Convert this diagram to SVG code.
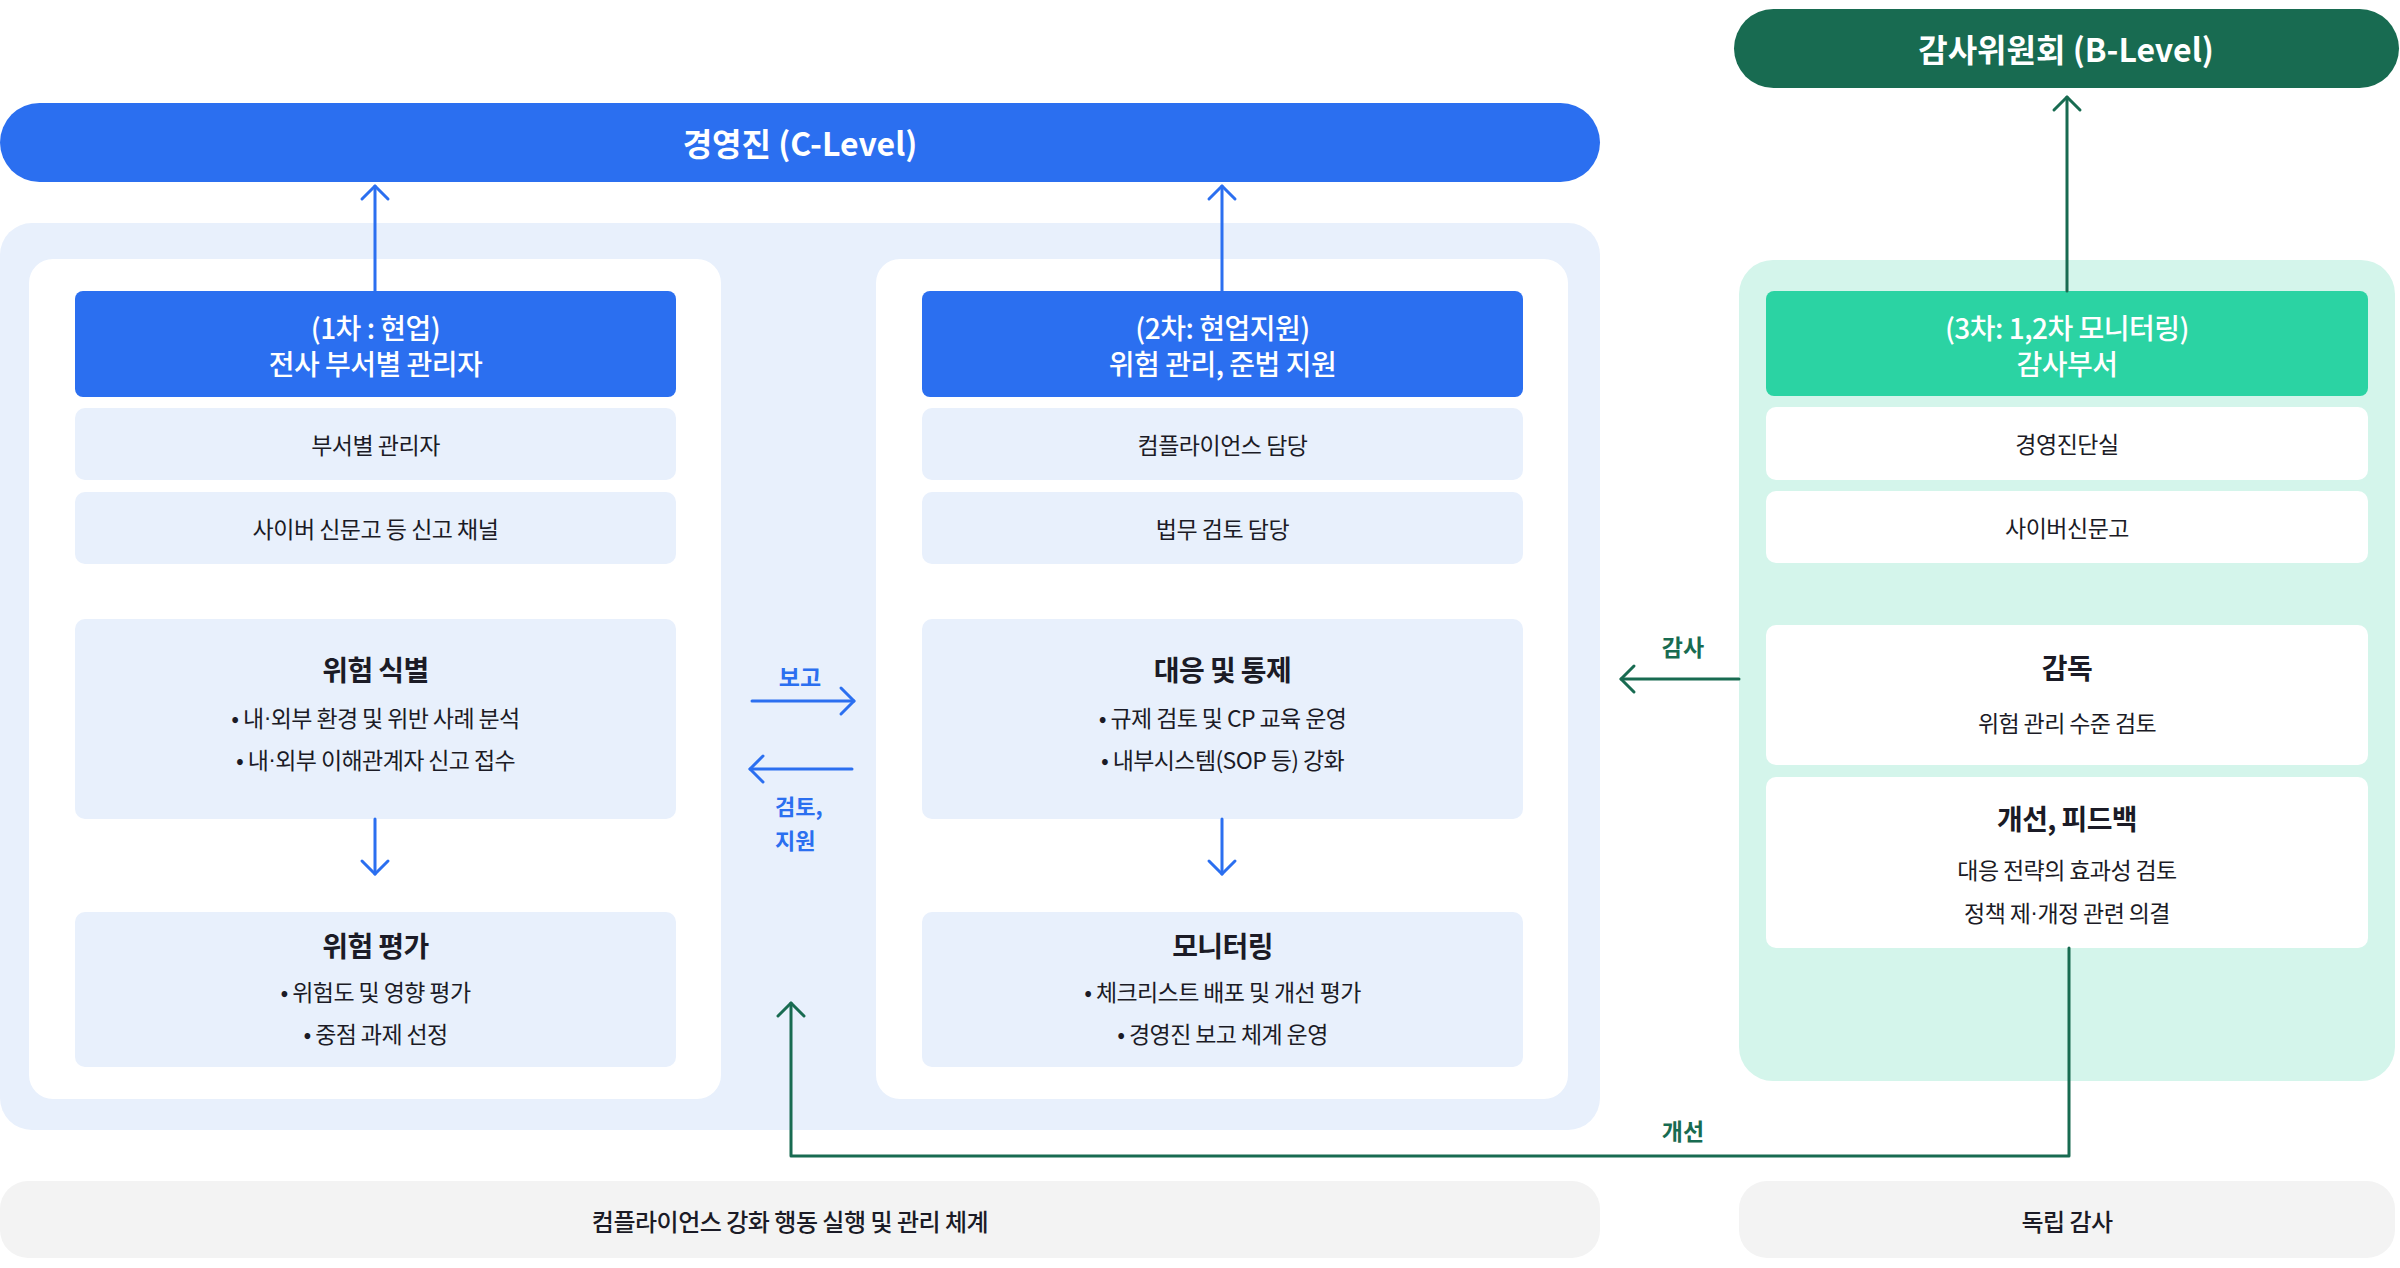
<svg xmlns="http://www.w3.org/2000/svg" width="2400" height="1268" viewBox="0 0 2400 1268">
<style>
text { font-family: "Noto Sans CJK KR", "Noto Sans", sans-serif; text-anchor: middle; dominant-baseline: central; }
.bar { font-size: 32px; font-weight: 700; fill: #ffffff; }
.hd { font-size: 28px; font-weight: 500; fill: #ffffff; letter-spacing: -0.5px; }
.sub { font-size: 23px; font-weight: 400; fill: #1b1b26; letter-spacing: -0.5px; }
.ttl { font-size: 28px; font-weight: 700; fill: #1b1b26; letter-spacing: -0.6px; }
.bul { font-size: 23px; font-weight: 400; fill: #1b1b26; letter-spacing: -0.6px; }
.lblB { font-size: 23px; font-weight: 700; fill: #2b6ff0; }
.lblS { font-size: 22px; font-weight: 700; fill: #2b6ff0; text-anchor: start; }
.lblG { font-size: 23px; font-weight: 700; fill: #186b51; }
.foot { font-size: 24px; font-weight: 500; fill: #1b1b26; letter-spacing: -0.5px; }
.dot { font-family: "Liberation Sans", sans-serif; }
.blueBar { fill: #2b6ff0; }
.greenBar { fill: #186b51; }
.bluePanel { fill: #e8f0fc; }
.whitePanel { fill: #ffffff; }
.hdBlue { fill: #2b6ff0; }
.hdGreen { fill: #2bd3a3; }
.cellBlue { fill: #e8f0fc; }
.cellWhite { fill: #ffffff; }
.greenPanel { fill: #d4f5eb; }
.grayBar { fill: #f3f3f3; }
.ab { fill: none; stroke: #2b6ff0; stroke-width: 3; stroke-linecap: round; stroke-linejoin: round; }
.ag { fill: none; stroke: #186b51; stroke-width: 3; stroke-linecap: round; stroke-linejoin: round; }
</style>
<defs>
<marker id="hb" markerUnits="userSpaceOnUse" viewBox="-16 -16 32 32" refX="0" refY="0" markerWidth="32" markerHeight="32" orient="auto">
<path d="M-13,-13 L0,0 L-13,13" fill="none" stroke="#2b6ff0" stroke-width="3" stroke-linecap="round" stroke-linejoin="round"/>
</marker>
<marker id="hg" markerUnits="userSpaceOnUse" viewBox="-16 -16 32 32" refX="0" refY="0" markerWidth="32" markerHeight="32" orient="auto">
<path d="M-13,-13 L0,0 L-13,13" fill="none" stroke="#186b51" stroke-width="3" stroke-linecap="round" stroke-linejoin="round"/>
</marker>
</defs>

<g id="backgrounds">
<rect class="bluePanel" x="0" y="223" width="1600" height="907" rx="32"/>
<rect class="whitePanel" x="29" y="259" width="692" height="840" rx="24"/>
<rect class="whitePanel" x="876" y="259" width="692" height="840" rx="24"/>
<rect class="greenPanel" x="1739" y="260" width="656" height="821" rx="34"/>
</g>

<g id="c-level">
<rect class="blueBar" x="0" y="103" width="1600" height="79" rx="39.5"/>
<text class="bar" x="800" y="142">경영진 (C-Level)</text>
</g>

<g id="b-level">
<rect class="greenBar" x="1734" y="9" width="665" height="79" rx="39.5"/>
<text class="bar" x="2066" y="48">감사위원회 (B-Level)</text>
</g>

<g id="line1-header">
<rect class="hdBlue" x="75" y="291" width="601" height="106" rx="8"/>
<text class="hd" x="375.5" y="327">(1차 : 현업)</text>
<text class="hd" x="375.5" y="363">전사 부서별 관리자</text>
</g>
<g id="line1-managers">
<rect class="cellBlue" x="75" y="408" width="601" height="72" rx="10"/>
<text class="sub" x="375.5" y="444">부서별 관리자</text>
</g>
<g id="line1-channel">
<rect class="cellBlue" x="75" y="492" width="601" height="72" rx="10"/>
<text class="sub" x="375.5" y="528">사이버 신문고 등 신고 채널</text>
</g>
<g id="risk-identification">
<rect class="cellBlue" x="75" y="619" width="601" height="200" rx="10"/>
<text class="ttl" x="375.5" y="669">위험 식별</text>
<text class="bul" x="375.5" y="717">• 내<tspan class="dot">·</tspan>외부 환경 및 위반 사례 분석</text>
<text class="bul" x="375.5" y="759">• 내<tspan class="dot">·</tspan>외부 이해관계자 신고 접수</text>
</g>
<g id="risk-assessment">
<rect class="cellBlue" x="75" y="912" width="601" height="155" rx="10"/>
<text class="ttl" x="375.5" y="945">위험 평가</text>
<text class="bul" x="375.5" y="991">• 위험도 및 영향 평가</text>
<text class="bul" x="375.5" y="1033">• 중점 과제 선정</text>
</g>

<g id="line2-header">
<rect class="hdBlue" x="922" y="291" width="601" height="106" rx="8"/>
<text class="hd" x="1222.5" y="327">(2차: 현업지원)</text>
<text class="hd" x="1222.5" y="363">위험 관리, 준법 지원</text>
</g>
<g id="line2-compliance">
<rect class="cellBlue" x="922" y="408" width="601" height="72" rx="10"/>
<text class="sub" x="1222.5" y="444">컴플라이언스 담당</text>
</g>
<g id="line2-legal">
<rect class="cellBlue" x="922" y="492" width="601" height="72" rx="10"/>
<text class="sub" x="1222.5" y="528">법무 검토 담당</text>
</g>
<g id="response-control">
<rect class="cellBlue" x="922" y="619" width="601" height="200" rx="10"/>
<text class="ttl" x="1222.5" y="669">대응 및 통제</text>
<text class="bul" x="1222.5" y="717">• 규제 검토 및 CP 교육 운영</text>
<text class="bul" x="1222.5" y="759">• 내부시스템(SOP 등) 강화</text>
</g>
<g id="monitoring">
<rect class="cellBlue" x="922" y="912" width="601" height="155" rx="10"/>
<text class="ttl" x="1222.5" y="945">모니터링</text>
<text class="bul" x="1222.5" y="991">• 체크리스트 배포 및 개선 평가</text>
<text class="bul" x="1222.5" y="1033">• 경영진 보고 체계 운영</text>
</g>

<g id="line3-header">
<rect class="hdGreen" x="1766" y="291" width="602" height="105" rx="8"/>
<text class="hd" x="2067" y="327">(3차: 1,2차 모니터링)</text>
<text class="hd" x="2067" y="363">감사부서</text>
</g>
<g id="line3-diagnosis">
<rect class="cellWhite" x="1766" y="407" width="602" height="73" rx="10"/>
<text class="sub" x="2067" y="443">경영진단실</text>
</g>
<g id="line3-cyber">
<rect class="cellWhite" x="1766" y="491" width="602" height="72" rx="10"/>
<text class="sub" x="2067" y="527">사이버신문고</text>
</g>
<g id="supervision">
<rect class="cellWhite" x="1766" y="625" width="602" height="140" rx="10"/>
<text class="ttl" x="2067" y="667">감독</text>
<text class="bul" x="2067" y="722">위험 관리 수준 검토</text>
</g>
<g id="improvement">
<rect class="cellWhite" x="1766" y="777" width="602" height="171" rx="10"/>
<text class="ttl" x="2067" y="818">개선, 피드백</text>
<text class="bul" x="2067" y="869">대응 전략의 효과성 검토</text>
<text class="bul" x="2067" y="912">정책 제<tspan class="dot">·</tspan>개정 관련 의결</text>
</g>

<g id="footer-left">
<rect class="grayBar" x="0" y="1181" width="1600" height="77" rx="28"/>
<text class="foot" x="790" y="1220">컴플라이언스 강화 행동 실행 및 관리 체계</text>
</g>
<g id="footer-right">
<rect class="grayBar" x="1739" y="1181" width="656" height="77" rx="28"/>
<text class="foot" x="2067" y="1220">독립 감사</text>
</g>

<g id="connectors">
<line class="ab" x1="375" y1="291" x2="375" y2="186" marker-end="url(#hb)"/>
<line class="ab" x1="1222" y1="291" x2="1222" y2="186" marker-end="url(#hb)"/>
<line class="ab" x1="375" y1="819" x2="375" y2="874" marker-end="url(#hb)"/>
<line class="ab" x1="1222" y1="819" x2="1222" y2="874" marker-end="url(#hb)"/>
<line class="ab" x1="752" y1="701" x2="854" y2="701" marker-end="url(#hb)"/>
<line class="ab" x1="852" y1="769" x2="750" y2="769" marker-end="url(#hb)"/>
<line class="ag" x1="2067" y1="291" x2="2067" y2="97" marker-end="url(#hg)"/>
<line class="ag" x1="1739" y1="679" x2="1621" y2="679" marker-end="url(#hg)"/>
<polyline class="ag" points="2069,948 2069,1156 791,1156 791,1003" marker-end="url(#hg)"/>
<text class="lblB" x="800" y="676">보고</text>
<text class="lblS" x="775" y="805">검토,</text>
<text class="lblS" x="775" y="839">지원</text>
<text class="lblG" x="1683" y="646">감사</text>
<text class="lblG" x="1683" y="1130">개선</text>
</g>
</svg>
